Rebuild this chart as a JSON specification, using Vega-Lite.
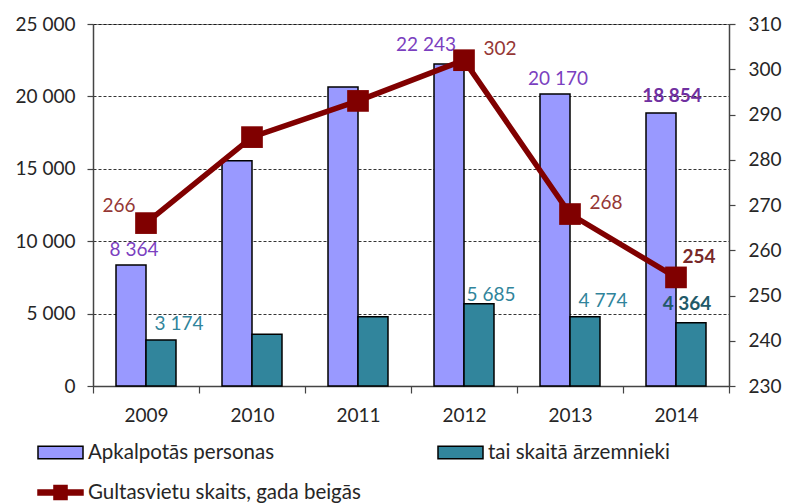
{
  "$schema": "https://vega.github.io/schema/vega-lite/v6.json",
  "width": 636,
  "height": 362,
  "autosize": "none",
  "padding": {"left": 93, "top": 24, "right": 58, "bottom": 118},
  "background": "white",
  "config": {
    "font": "Lato",
    "locale": {"number": {"decimal": ",", "thousands": " ", "grouping": [3], "currency": ["", ""]}},
    "view": {"stroke": "#8c8c8c", "strokeWidth": 1},
    "axis": {"labelFont": "Lato", "labelFontSize": 19, "labelColor": "#262626", "domainColor": "#444", "tickColor": "#444", "domainWidth": 1.5, "tickWidth": 1.2, "title": null},
    "text": {"font": "Lato", "fontSize": 19, "baseline": "alphabetic"}
  },
  "datasets": {
    "bars": [
      {"year": "2009", "series": "Apkalpotās personas", "value": 8364},
      {"year": "2010", "series": "Apkalpotās personas", "value": 15560},
      {"year": "2011", "series": "Apkalpotās personas", "value": 20650},
      {"year": "2012", "series": "Apkalpotās personas", "value": 22243},
      {"year": "2013", "series": "Apkalpotās personas", "value": 20170},
      {"year": "2014", "series": "Apkalpotās personas", "value": 18854},
      {"year": "2009", "series": "tai skaitā ārzemnieki", "value": 3174},
      {"year": "2010", "series": "tai skaitā ārzemnieki", "value": 3570},
      {"year": "2011", "series": "tai skaitā ārzemnieki", "value": 4780},
      {"year": "2012", "series": "tai skaitā ārzemnieki", "value": 5685},
      {"year": "2013", "series": "tai skaitā ārzemnieki", "value": 4774},
      {"year": "2014", "series": "tai skaitā ārzemnieki", "value": 4364}
    ],
    "beds": [
      {"year": "2009", "beds": 266},
      {"year": "2010", "beds": 285},
      {"year": "2011", "beds": 293},
      {"year": "2012", "beds": 302},
      {"year": "2013", "beds": 268},
      {"year": "2014", "beds": 254}
    ]
  },
  "layer": [
    {
      "data": {"name": "bars"},
      "encoding": {
        "x": {"field": "year", "type": "nominal", "scale": {"paddingInner": 0, "paddingOuter": 0},
              "axis": {"labelAngle": 0, "tickBand": "extent", "tickSize": 7, "labelPadding": 13, "grid": false}},
        "xOffset": {"field": "series", "type": "nominal", "sort": ["Apkalpotās personas", "tai skaitā ārzemnieki"], "scale": {"paddingInner": 0, "paddingOuter": 0.767}},
        "y": {"field": "value", "type": "quantitative", "scale": {"domain": [0, 25000]},
              "axis": {"values": [0, 5000, 10000, 15000, 20000, 25000], "format": ",d", "tickSize": 6, "labelPadding": 12, "grid": true, "gridColor": "#000", "gridDash": [3, 2], "gridWidth": 0.8}}
      },
      "layer": [
        {
          "mark": {"type": "bar", "stroke": "black", "strokeWidth": 1.5},
          "encoding": {
            "fill": {"field": "series", "type": "nominal",
                     "scale": {"domain": ["Apkalpotās personas", "tai skaitā ārzemnieki"], "range": ["#9999FF", "#31859C"]},
                     "legend": {"orient": "none", "legendX": -56, "legendY": 405, "direction": "horizontal", "columns": 2, "columnPadding": 160,
                                "title": null, "padding": 0, "symbolType": "M-1,-0.28L1,-0.28L1,0.28L-1,0.28Z", "symbolSize": 2025,
                                "symbolStrokeColor": "black", "symbolStrokeWidth": 1.5, "labelFontSize": 20.5, "labelFont": "Lato", "labelColor": "#262626", "labelOffset": 4, "labelLimit": 400}}
          }
        },
        {
          "transform": [{"filter": {"and": [{"field": "series", "equal": "Apkalpotās personas"}, {"field": "year", "oneOf": ["2009", "2013"]}]}}],
          "mark": {"type": "text", "dx": 3, "dy": -9, "color": "#7B3FBF"},
          "encoding": {"text": {"field": "value", "type": "quantitative", "format": ",d"}}
        },
        {
          "transform": [{"filter": {"and": [{"field": "series", "equal": "Apkalpotās personas"}, {"field": "year", "equal": "2012"}]}}],
          "mark": {"type": "text", "dx": -23, "dy": -13, "color": "#7B3FBF"},
          "encoding": {"text": {"field": "value", "type": "quantitative", "format": ",d"}}
        },
        {
          "transform": [{"filter": {"and": [{"field": "series", "equal": "Apkalpotās personas"}, {"field": "year", "equal": "2014"}]}}],
          "mark": {"type": "text", "dx": 11, "dy": -11, "color": "#7030A0", "fontWeight": "bold"},
          "encoding": {"text": {"field": "value", "type": "quantitative", "format": ",d"}}
        },
        {
          "transform": [{"filter": {"and": [{"field": "series", "equal": "tai skaitā ārzemnieki"}, {"field": "year", "oneOf": ["2009", "2013"]}]}}],
          "mark": {"type": "text", "dx": 18, "dy": -10, "color": "#31849B"},
          "encoding": {"text": {"field": "value", "type": "quantitative", "format": ",d"}}
        },
        {
          "transform": [{"filter": {"and": [{"field": "series", "equal": "tai skaitā ārzemnieki"}, {"field": "year", "equal": "2012"}]}}],
          "mark": {"type": "text", "dx": 12, "dy": -3, "color": "#31849B"},
          "encoding": {"text": {"field": "value", "type": "quantitative", "format": ",d"}}
        },
        {
          "transform": [{"filter": {"and": [{"field": "series", "equal": "tai skaitā ārzemnieki"}, {"field": "year", "equal": "2014"}]}}],
          "mark": {"type": "text", "dx": -4, "dy": -13, "color": "#215968", "fontWeight": "bold"},
          "encoding": {"text": {"field": "value", "type": "quantitative", "format": ",d"}}
        }
      ]
    },
    {
      "data": {"name": "beds"},
      "encoding": {
        "x": {"field": "year", "type": "nominal"},
        "y": {"field": "beds", "type": "quantitative", "scale": {"domain": [230, 310]},
              "axis": {"orient": "right", "values": [230, 240, 250, 260, 270, 280, 290, 300, 310], "tickSize": 6, "labelPadding": 13, "grid": false}}
      },
      "layer": [
        {
          "mark": {"type": "line", "strokeWidth": 5.5},
          "encoding": {
            "stroke": {"datum": "Gultasvietu skaits, gada beigās", "type": "nominal", "scale": {"range": ["#800000"]},
                       "legend": {"orient": "none", "legendX": -56, "legendY": 445, "title": null, "padding": 0,
                                  "symbolType": "M-1,-0.11L-0.29,-0.11L-0.29,-0.31L0.29,-0.31L0.29,-0.11L1,-0.11L1,0.11L0.29,0.11L0.29,0.31L-0.29,0.31L-0.29,0.11L-1,0.11Z",
                                  "symbolSize": 2025, "labelFontSize": 20.5, "labelFont": "Lato", "labelColor": "#262626", "labelOffset": 4, "labelLimit": 400,
                                  "encode": {"symbols": {"update": {"fill": {"value": "#800000"}, "stroke": {"value": "transparent"}}}}}}
          }
        },
        {
          "mark": {"type": "point", "shape": "square", "size": 470, "filled": true, "color": "#800000", "opacity": 1}
        },
        {
          "transform": [{"filter": {"field": "year", "equal": "2009"}}],
          "mark": {"type": "text", "dx": -27, "dy": -11, "color": "#953735"},
          "encoding": {"text": {"field": "beds", "type": "quantitative"}}
        },
        {
          "transform": [{"filter": {"field": "year", "oneOf": ["2012", "2013"]}}],
          "mark": {"type": "text", "dx": 36, "dy": -5, "color": "#953735"},
          "encoding": {"text": {"field": "beds", "type": "quantitative"}}
        },
        {
          "transform": [{"filter": {"field": "year", "equal": "2014"}}],
          "mark": {"type": "text", "dx": 23, "dy": -14, "color": "#772828", "fontWeight": "bold"},
          "encoding": {"text": {"field": "beds", "type": "quantitative"}}
        }
      ]
    }
  ],
  "resolve": {"scale": {"y": "independent"}}
}
